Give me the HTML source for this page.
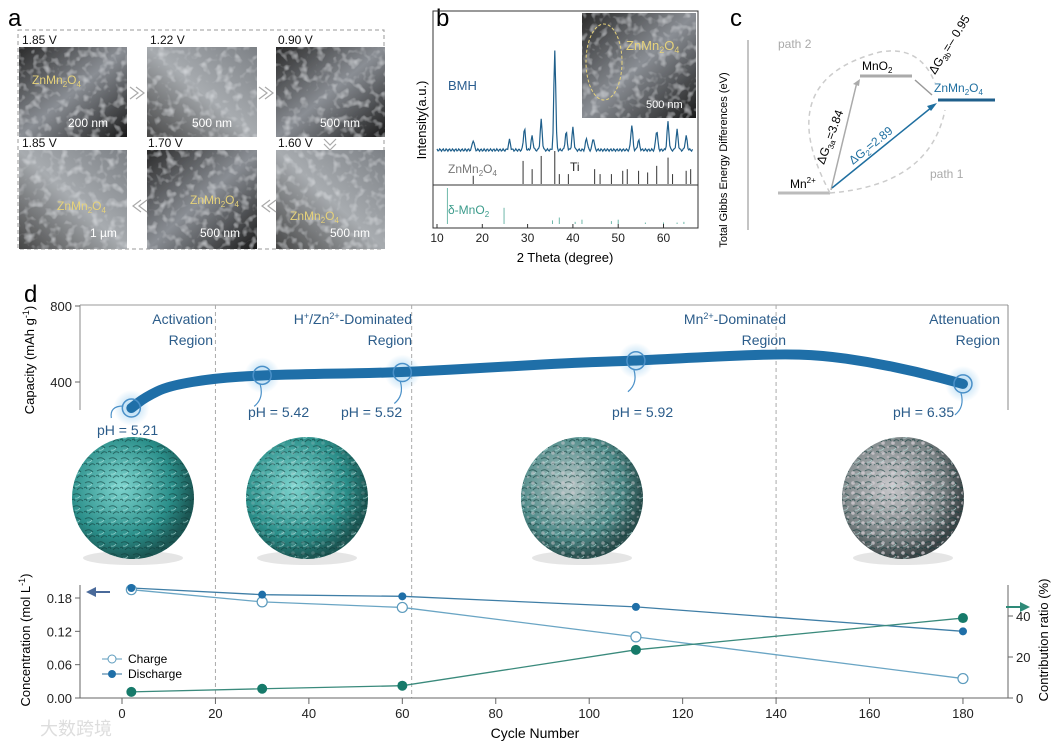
<!DOCTYPE html>
<html><head><meta charset="utf-8">
<style>
body{margin:0;background:#fff;}
svg{display:block;font-family:"Liberation Sans","Noto Sans CJK SC",sans-serif;}
</style></head>
<body>
<svg width="1062" height="748" viewBox="0 0 1062 748" xmlns="http://www.w3.org/2000/svg">
<defs>
 <linearGradient id="sem1" x1="0" y1="0" x2="1" y2="1"><stop offset="0" stop-color="#2a2a2a"/><stop offset="0.5" stop-color="#8a8e94"/><stop offset="1" stop-color="#1a1a1a"/></linearGradient>
 <linearGradient id="sem2" x1="1" y1="0" x2="0" y2="1"><stop offset="0" stop-color="#7d8186"/><stop offset="0.5" stop-color="#a8acb0"/><stop offset="1" stop-color="#454545"/></linearGradient>
 <filter id="grain" x="0" y="0" width="1" height="1">
  <feTurbulence type="fractalNoise" baseFrequency="0.12" numOctaves="2" seed="3" result="n"/>
  <feColorMatrix in="n" type="matrix" values="0 0 0 0 0.85  0 0 0 0 0.87  0 0 0 0 0.9  0 0 0 1.2 -0.6" result="c"/>
  <feComposite in="c" in2="SourceGraphic" operator="atop"/>
 </filter>
 <radialGradient id="sph1" cx="0.4" cy="0.4" r="0.6"><stop offset="0" stop-color="#7fd5cf"/><stop offset="0.7" stop-color="#2b8f8a"/><stop offset="1" stop-color="#1b5653"/></radialGradient>
 <radialGradient id="sph2" cx="0.4" cy="0.4" r="0.6"><stop offset="0" stop-color="#b7c6c6"/><stop offset="0.7" stop-color="#4f8c8a"/><stop offset="1" stop-color="#2a4e4d"/></radialGradient>
 <radialGradient id="sph3" cx="0.4" cy="0.4" r="0.6"><stop offset="0" stop-color="#c9c9cc"/><stop offset="0.7" stop-color="#7c8587"/><stop offset="1" stop-color="#3b4446"/></radialGradient>
 <pattern id="flakes" width="12" height="12" patternUnits="userSpaceOnUse">
  <path d="M1 3 q4 -3 8 1 M5 10 q3 -4 6 -1 M0 8 q2 -2 3 1" fill="none" stroke="#0f3a38" stroke-width="1" opacity="0.6"/>
  <path d="M3 6 q3 1 5 -2" fill="none" stroke="#bfeee9" stroke-width="0.8" opacity="0.6"/>
 </pattern>
 <pattern id="dots" width="10" height="10" patternUnits="userSpaceOnUse">
  <circle cx="3" cy="3" r="1.8" fill="#d8d0d6" opacity="0.8"/><circle cx="8" cy="7" r="1.3" fill="#c9bfc7" opacity="0.7"/>
 </pattern>
 <radialGradient id="glow"><stop offset="0" stop-color="#9fd0f0" stop-opacity="0.9"/><stop offset="1" stop-color="#9fd0f0" stop-opacity="0"/></radialGradient>
</defs>

<g>
<text x="8" y="26" font-size="24">a</text>
<rect x="18" y="30" width="366" height="219" fill="none" stroke="#999" stroke-dasharray="4,3"/>
<g filter="url(#grain)">
<rect x="19" y="47" width="108" height="90" fill="url(#sem1)"/>
</g><g filter="url(#grain)">
<rect x="147" y="47" width="110" height="90" fill="url(#sem2)"/>
</g><g filter="url(#grain)">
<rect x="276" y="47" width="109" height="90" fill="url(#sem1)"/>
</g><g filter="url(#grain)">
<rect x="19" y="150" width="108" height="99" fill="url(#sem2)"/>
</g><g filter="url(#grain)">
<rect x="147" y="150" width="110" height="99" fill="url(#sem1)"/>
</g><g filter="url(#grain)">
<rect x="276" y="150" width="109" height="99" fill="url(#sem2)"/>
</g>
<g font-size="12" fill="#111">
<text x="22" y="44">1.85 V</text><text x="150" y="44">1.22 V</text><text x="278" y="44">0.90 V</text>
<text x="22" y="147">1.85 V</text><text x="148" y="147">1.70 V</text><text x="278" y="147">1.60 V</text>
</g>
<g font-size="12" fill="#fff">
<text x="68" y="127">200 nm</text><text x="192" y="127">500 nm</text><text x="320" y="127">500 nm</text>
<text x="90" y="237">1 µm</text><text x="200" y="237">500 nm</text><text x="330" y="237">500 nm</text>
</g>
<g font-size="12" fill="#e6d27a">
<text x="32" y="84">ZnMn<tspan font-size="8" dy="3">2</tspan><tspan dy="-3">O</tspan><tspan font-size="8" dy="3">4</tspan></text>
<text x="57" y="210">ZnMn<tspan font-size="8" dy="3">2</tspan><tspan dy="-3">O</tspan><tspan font-size="8" dy="3">4</tspan></text>
<text x="190" y="204">ZnMn<tspan font-size="8" dy="3">2</tspan><tspan dy="-3">O</tspan><tspan font-size="8" dy="3">4</tspan></text>
<text x="290" y="220">ZnMn<tspan font-size="8" dy="3">2</tspan><tspan dy="-3">O</tspan><tspan font-size="8" dy="3">4</tspan></text>
</g>
<g fill="none" stroke="#aaa" stroke-width="1.2">
<path d="M130 87 l8 6 -8 6 M136 87 l8 6 -8 6"/><path d="M259 87 l8 6 -8 6 M265 87 l8 6 -8 6"/>
<path d="M324 139 l6 6 6 -6 M324 144 l6 6 6 -6"/>
<path d="M270 200 l-8 6 8 6 M276 200 l-8 6 8 6"/><path d="M141 200 l-8 6 8 6 M147 200 l-8 6 8 6"/>
</g>
</g>

<g>
<text x="436" y="26" font-size="24">b</text>
<rect x="433" y="11" width="265" height="217" fill="none" stroke="#333"/>
<line x1="433" y1="185" x2="698" y2="185" stroke="#333"/>
<g filter="url(#grain)"><rect x="582" y="13" width="114" height="105" fill="url(#sem1)"/></g>
<ellipse cx="604" cy="62" rx="18" ry="38" fill="none" stroke="#e6d27a" stroke-dasharray="3,2"/>
<text x="626" y="50" font-size="13" fill="#e6d27a">ZnMn<tspan font-size="9" dy="3">2</tspan><tspan dy="-3">O</tspan><tspan font-size="9" dy="3">4</tspan></text>
<text x="646" y="108" font-size="11" fill="#fff">500 nm</text>
<text x="448" y="90" font-size="13" fill="#2a5d8f">BMH</text>
<text x="448" y="173" font-size="12" fill="#777">ZnMn<tspan font-size="8" dy="3">2</tspan><tspan dy="-3">O</tspan><tspan font-size="8" dy="3">4</tspan></text>
<text x="570" y="171" font-size="12" fill="#222">Ti</text>
<text x="448" y="214" font-size="12" fill="#3b9b8b">δ-MnO<tspan font-size="8" dy="3">2</tspan></text>
<path id="xrdpath" fill="none" stroke="#1f5f8b" stroke-width="1.2"/>
<g id="znmnBars" stroke="#333" stroke-width="1"></g>
<g id="mno2Bars" stroke="#6fb8aa" stroke-width="1"></g>
<g id="xrdTicks" font-size="12" fill="#222"></g>
<text x="565" y="262" font-size="13" text-anchor="middle">2 Theta (degree)</text>
<text transform="translate(426,120) rotate(-90)" font-size="13" text-anchor="middle">Intensity(a.u.)</text>
</g>

<g>
<text x="730" y="26" font-size="24">c</text>
<line x1="748" y1="40" x2="748" y2="230" stroke="#888"/>
<text transform="translate(727,160) rotate(-90)" font-size="11" text-anchor="middle">Total Gibbs Energy Differences (eV)</text>
<line x1="778" y1="193" x2="830" y2="193" stroke="#bbb" stroke-width="3"/>
<line x1="860" y1="76" x2="912" y2="76" stroke="#aaa" stroke-width="3"/>
<line x1="938" y1="100" x2="995" y2="100" stroke="#1f5f8b" stroke-width="3"/>
<text x="790" y="188" font-size="12">Mn<tspan font-size="8" dy="-5">2+</tspan></text>
<text x="862" y="70" font-size="12">MnO<tspan font-size="8" dy="3">2</tspan></text>
<text x="934" y="92" font-size="12" fill="#1f6fa0">ZnMn<tspan font-size="8" dy="3">2</tspan><tspan dy="-3">O</tspan><tspan font-size="8" dy="3">4</tspan></text>
<path d="M830 193 Q770 80 880 52 Q920 45 935 83" fill="none" stroke="#ccc" stroke-width="1.5" stroke-dasharray="5,4"/>
<path d="M830 193 Q930 185 945 110" fill="none" stroke="#ccc" stroke-width="1.5" stroke-dasharray="5,4"/>
<text x="778" y="48" font-size="12" fill="#aaa">path 2</text>
<text x="930" y="178" font-size="12" fill="#aaa">path 1</text>
<line x1="831" y1="190" x2="857" y2="82" stroke="#aaa" stroke-width="1.5"/><path d="M860 79 l-7 5 6 2z" fill="#aaa"/>
<line x1="915" y1="80" x2="932" y2="95" stroke="#999" stroke-width="1.5"/>
<line x1="832" y1="188" x2="932" y2="107" stroke="#1f6fa0" stroke-width="1.5"/><path d="M937 103 l-10 3 4 5z" fill="#1f6fa0"/>
<text transform="translate(824,165) rotate(-70)" font-size="12">ΔG<tspan font-size="8" dy="3">3a</tspan><tspan dy="-3">=3.84</tspan></text>
<text transform="translate(853,165) rotate(-39)" font-size="12" fill="#1f6fa0">ΔG<tspan font-size="8" dy="3">2</tspan><tspan dy="-3">=2.89</tspan></text>
<text transform="translate(935,75) rotate(-58)" font-size="12">ΔG<tspan font-size="8" dy="3">3b</tspan><tspan dy="-3">=– 0.95</tspan></text>
</g>

<g>
<text x="24" y="302" font-size="24">d</text>
<g id="spheres"></g>
<line x1="80" y1="305" x2="80" y2="410" stroke="#888"/>
<line x1="80" y1="305" x2="1008" y2="305" stroke="#999"/>
<line x1="1008" y1="305" x2="1008" y2="410" stroke="#888"/>
<g id="vlines" stroke="#aaa" stroke-dasharray="4,3"></g>
<g id="capTicks" font-size="13" fill="#222"></g>
<text transform="translate(34,360) rotate(-90)" font-size="13" text-anchor="middle">Capacity (mAh g<tspan font-size="9" dy="-5">-1</tspan><tspan dy="5">)</tspan></text>
<g id="capGlow"></g>
<path id="capLine" fill="none" stroke="#1f6fa8" stroke-width="10" stroke-linecap="round" stroke-linejoin="round"/>
<g font-size="14" fill="#2b5c8a" text-anchor="end">
<text x="213" y="324">Activation</text><text x="213" y="345">Region</text>
<text x="412" y="324">H<tspan font-size="9" dy="-5">+</tspan><tspan dy="5">/Zn</tspan><tspan font-size="9" dy="-5">2+</tspan><tspan dy="5">-Dominated</tspan></text><text x="412" y="345">Region</text>
<text x="786" y="324">Mn<tspan font-size="9" dy="-5">2+</tspan><tspan dy="5">-Dominated</tspan></text><text x="786" y="345">Region</text>
<text x="1000" y="324">Attenuation</text><text x="1000" y="345">Region</text>
</g>
<g id="phLabels" font-size="14" fill="#2b5c8a"></g>
<line x1="80" y1="585" x2="80" y2="698" stroke="#666"/>
<line x1="80" y1="698" x2="1008" y2="698" stroke="#666"/>
<line x1="1008" y1="585" x2="1008" y2="698" stroke="#666"/>
<g id="bottomAxes" font-size="13" fill="#222"></g>
<text transform="translate(30,640) rotate(-90)" font-size="13" text-anchor="middle">Concentration (mol L<tspan font-size="9" dy="-5">-1</tspan><tspan dy="5">)</tspan></text>
<text transform="translate(1048,640) rotate(-90)" font-size="13" text-anchor="middle">Contribution ratio (%)</text>
<text x="535" y="738" font-size="14" text-anchor="middle">Cycle Number</text>
<path d="M86 592 l10 -5 v4 h14 v2 h-14 v4z" fill="#4a6a9a"/>
<path d="M1030 607 l-10 -5 v4 h-14 v2 h14 v4z" fill="#2e8a78"/>
<g id="series"></g>
<g font-size="12">
<line x1="102" y1="659" x2="122" y2="659" stroke="#5c9bbd"/><circle cx="112" cy="659" r="4" fill="#fff" stroke="#5c9bbd"/><text x="128" y="663">Charge</text>
<line x1="102" y1="674" x2="122" y2="674" stroke="#2e6c99"/><circle cx="112" cy="674" r="4" fill="#1f6fa8"/><text x="128" y="678">Discharge</text>
</g>
<text x="40" y="735" font-size="18" fill="#ddd">大数跨境</text>
</g>
</svg>
<script>
// XRD data
const xrdPeaks2T=[18,26,29.3,31,33,36,38.5,40,43,44.5,53,54.5,58.5,61,63,65];
const xrdPeakH=[10,10,22,14,30,100,18,22,12,12,25,10,20,28,20,14];
const znmnPos=[18,29,31,33,36,37,39,44.8,46,48.5,51,52,54.5,56.5,58.5,61,62,65,66];
const znmnH=[25,70,45,85,100,30,30,45,30,30,40,45,40,35,55,80,30,40,45];
const mno2Pos=[12.3,24.8,35.5,37,40.5,42,48.5,50,56,60,63,64.5];
const mno2H=[100,45,10,18,6,12,8,12,4,4,4,6];
const xrdTickVals=[10,20,30,40,50,60];
// Capacity data
const capCycles=[2,5,10,20,30,40,60,80,100,110,120,140,150,160,170,180];
const capValues=[263,320,380,420,435,442,450,479,505,512,526,548,540,505,455,390];
const capTickVals=[400,800];
const phCycles=[2,30,60,110,180];
const phLabels=["pH = 5.21","pH = 5.42","pH = 5.52","pH = 5.92","pH = 6.35"];
// Bottom chart data
const concCycles=[2,30,60,110,180];
const chargeConc=[0.195,0.173,0.163,0.11,0.035];
const dischargeConc=[0.198,0.186,0.183,0.164,0.12];
const contribRatio=[3,4.5,6,23.5,39];
const xTickVals=[0,20,40,60,80,100,120,140,160,180];
const concTickVals=[0,0.06,0.12,0.18];
const concTickLabels=["0.00","0.06","0.12","0.18"];
const ratioTickVals=[0,20,40];
const regionBounds=[20,62,140];

const NS="http://www.w3.org/2000/svg";
function mk(tag,attrs,parent){const e=document.createElementNS(NS,tag);for(const k in attrs)e.setAttribute(k,attrs[k]);parent.appendChild(e);return e;}
const bx=t=>437+(t-10)*4.53;
const base=150;
let d="";
for(let t=10;t<=66.5;t+=0.2){let y=0;xrdPeaks2T.forEach((p,i)=>{y+=xrdPeakH[i]*Math.exp(-Math.pow((t-p)/0.3,2));});y+=1.2*Math.sin(t*9);d+=(d?"L":"M")+bx(t).toFixed(1)+" "+(base-y*1.0).toFixed(1);}
document.getElementById("xrdpath").setAttribute("d",d);
const zb=document.getElementById("znmnBars");
znmnPos.forEach((p,i)=>{const l=mk("line",{x1:bx(p),x2:bx(p),y1:184,y2:184-znmnH[i]*0.33},zb);

});
const mb=document.getElementById("mno2Bars");
mno2Pos.forEach((p,i)=>{const l=mk("line",{x1:bx(p),x2:bx(p),y1:224,y2:224-mno2H[i]*0.36},mb);

});
const xt=document.getElementById("xrdTicks");
xrdTickVals.forEach(v=>{mk("line",{x1:bx(v),x2:bx(v),y1:228,y2:224,stroke:"#333"},xt);const t=mk("text",{x:bx(v),y:242,"text-anchor":"middle"},xt);t.textContent=v;

});

const X=c=>122+c*4.672;
const YC=v=>458-v*0.19;
const YL=v=>698-v*(100/0.18);
const YR=v=>698-v*2.05;
const vl=document.getElementById("vlines");
regionBounds.forEach(c=>{const l=mk("line",{x1:X(c),x2:X(c),y1:305,y2:698},vl);

});
const ct=document.getElementById("capTicks");
capTickVals.forEach(v=>{mk("line",{x1:80,x2:75,y1:YC(v),y2:YC(v),stroke:"#666"},ct);const t=mk("text",{x:72,y:YC(v)+5,"text-anchor":"end"},ct);t.textContent=v;

});
let cp="";
for(let i=0;i<capCycles.length;i++){const x=X(capCycles[i]),y=YC(capValues[i]);
 if(i===0)cp="M"+x+" "+y;else{const px=X(capCycles[i-1]),py=YC(capValues[i-1]);const mx=(px+x)/2;cp+=" Q"+px+" "+py+" "+mx+" "+((py+y)/2);}}
cp+=" L"+X(capCycles[capCycles.length-1])+" "+YC(capValues[capValues.length-1]);
document.getElementById("capLine").setAttribute("d",cp);
function capAt(c){for(let i=1;i<capCycles.length;i++){if(c<=capCycles[i]){const f=(c-capCycles[i-1])/(capCycles[i]-capCycles[i-1]);return capValues[i-1]+f*(capValues[i]-capValues[i-1]);}}return capValues[capValues.length-1];}
const cg=document.getElementById("capGlow"),pl=document.getElementById("phLabels");
const phPos=[[97,435],[248,417],[341,417],[612,417],[893,417]];
phCycles.forEach((c,i)=>{const x=X(c),y=YC(capAt(c));
 const g=mk("circle",{cx:x,cy:y,r:18,fill:"url(#glow)"},cg);
 
 
 const r=mk("circle",{cx:x,cy:y,r:9,fill:"none",stroke:"#4a90c8","stroke-width":1.5},document.getElementById("series"));
 
 
 const a=mk("path",{d:i===0?"M"+(x-8)+" "+(y-2)+" q-14 0 -12 12":"M"+(x-2)+" "+(y+9)+" q4 14 -6 22",fill:"none",stroke:"#4a90c8","stroke-width":1.2},document.getElementById("series"));
 
 
 const t=mk("text",{x:phPos[i][0],y:phPos[i][1]},pl);t.textContent=phLabels[i];
 
 
});
const sp=document.getElementById("spheres");
[[133,"sph1",0],[307,"sph1",0.25],[582,"sph2",0.6],[903,"sph3",0.9]].forEach(s=>{
 mk("ellipse",{cx:s[0],cy:558,rx:50,ry:7,fill:"#ccc",opacity:0.5},sp);
 const c=mk("circle",{cx:s[0],cy:498,r:61,fill:"url(#"+s[1]+")"},sp);
 
 
 mk("circle",{cx:s[0],cy:498,r:61,fill:"url(#flakes)"},sp);
 if(s[2]>0)mk("circle",{cx:s[0],cy:498,r:60,fill:"url(#dots)",opacity:s[2]},sp);
});
const ba=document.getElementById("bottomAxes");
xTickVals.forEach(v=>{mk("line",{x1:X(v),x2:X(v),y1:698,y2:704,stroke:"#666"},ba);const t=mk("text",{x:X(v),y:718,"text-anchor":"middle"},ba);t.textContent=v;

});
concTickVals.forEach((v,i)=>{mk("line",{x1:80,x2:75,y1:YL(v),y2:YL(v),stroke:"#666"},ba);const t=mk("text",{x:72,y:YL(v)+5,"text-anchor":"end"},ba);t.textContent=concTickLabels[i];

});
ratioTickVals.forEach(v=>{mk("line",{x1:1008,x2:1013,y1:YR(v),y2:YR(v),stroke:"#666"},ba);const t=mk("text",{x:1016,y:YR(v)+5},ba);t.textContent=v;

});
const se=document.getElementById("series");
function line(vals,yf,col,name){const p=mk("polyline",{points:concCycles.map((c,i)=>X(c)+","+yf(vals[i])).join(" "),fill:"none",stroke:col,"stroke-width":1.3},se);

}
line(chargeConc,YL,"#6aa5c4","charge-line");
line(dischargeConc,YL,"#3f7ea6","discharge-line");
line(contribRatio,YR,"#3a8a7c","contribution-line");
concCycles.forEach((c,i)=>{
 const a=mk("circle",{cx:X(c),cy:YL(chargeConc[i]),r:5,fill:"#fff",stroke:"#5c9bbd","stroke-width":1.2},se);
 
 
 const b=mk("circle",{cx:X(c),cy:YL(dischargeConc[i]),r:4,fill:"#1f6fa8"},se);
 
 
 const g=mk("circle",{cx:X(c),cy:YR(contribRatio[i]),r:5,fill:"#167a6a"},se);
 
 
});
</script>
</body></html>
